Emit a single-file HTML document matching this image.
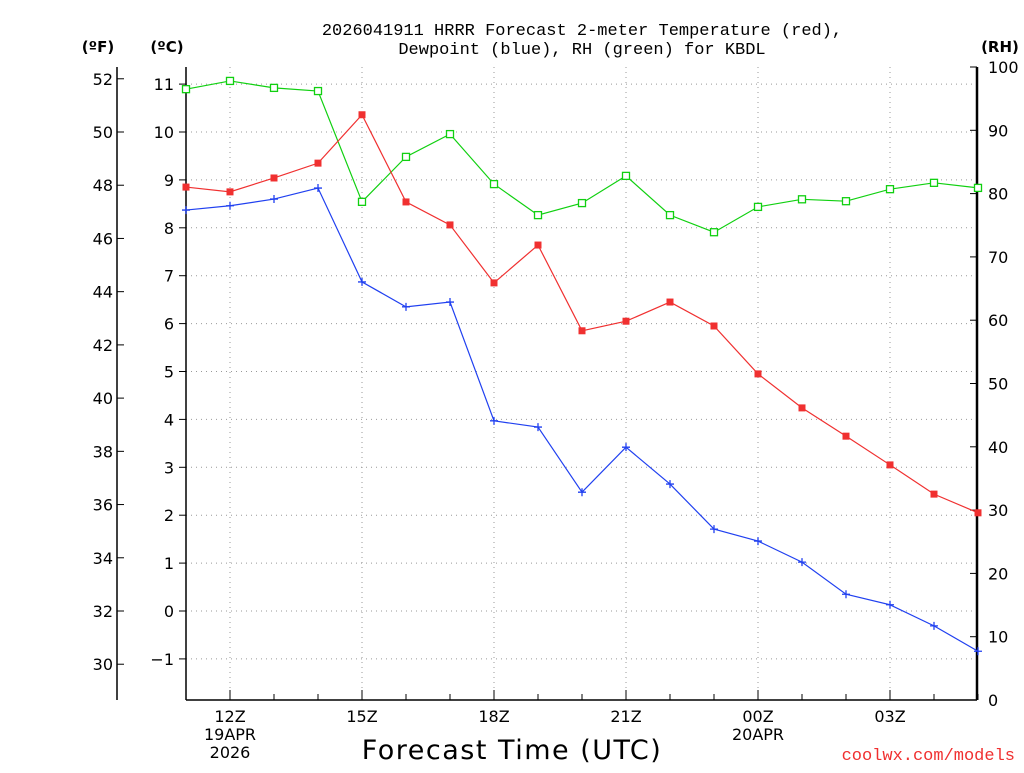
<!DOCTYPE html>
<html><head><meta charset="utf-8"><style>
body{margin:0;background:#fff;font-family:"Liberation Sans",sans-serif}
svg text{font-family:"DejaVu Sans","Liberation Sans",sans-serif}
</style></head><body>
<svg id="c" width="1024" height="768" xmlns="http://www.w3.org/2000/svg">
<text x="582" y="35" font-size="17" text-anchor="middle" style="font-family:'Liberation Mono',monospace">2026041911 HRRR Forecast 2-meter Temperature (red),</text>
<text x="582" y="54" font-size="17" text-anchor="middle" style="font-family:'Liberation Mono',monospace">Dewpoint (blue), RH (green) for KBDL</text>
<text x="98" y="52" font-size="15" font-weight="bold" text-anchor="middle">(ºF)</text>
<text x="167" y="52" font-size="15" font-weight="bold" text-anchor="middle">(ºC)</text>
<text x="1000" y="52" font-size="15" font-weight="bold" text-anchor="middle">(RH)</text>
<text x="512" y="759" font-size="27" text-anchor="middle" letter-spacing="1.5">Forecast Time (UTC)</text>
<text x="1015" y="760" font-size="17" fill="#f03030" text-anchor="end" style="font-family:'Liberation Mono',monospace">coolwx.com/models</text>
<g id="g"></g>
</svg>
<script>
const hours=[11,12,13,14,15,16,17,18,19,20,21,22,23,24,25,26,27,28,29];
const tempC=[8.85,8.75,9.04,9.35,10.36,8.54,8.06,6.85,7.64,5.85,6.05,6.45,5.95,4.95,4.24,3.65,3.05,2.44,2.05];
const dewC=[8.37,8.46,8.60,8.83,6.87,6.35,6.45,3.97,3.84,2.48,3.42,2.65,1.71,1.46,1.02,0.35,0.13,-0.31,-0.84];
const rh=[96.5,97.8,96.7,96.2,78.7,85.8,89.4,81.5,76.6,78.5,82.8,76.6,73.9,77.9,79.1,78.8,80.7,81.7,80.9];
const cTicks=[-1,0,1,2,3,4,5,6,7,8,9,10,11];
const fTicks=[30,32,34,36,38,40,42,44,46,48,50,52];
const rhTicks=[0,10,20,30,40,50,60,70,80,90,100];
const xLabels=[[12,"12Z","19APR","2026"],[15,"15Z"],[18,"18Z"],[21,"21Z"],[24,"00Z","20APR"],[27,"03Z"]];
const L=186,R=977,T=67,B=700;
const X=h=>L+(h-11)*44;
const YC=c=>611-c*47.9;
const YF=f=>YC((f-32)/1.8);
const YR=r=>B-r*6.33;
const g=document.getElementById('g');
const NS='http://www.w3.org/2000/svg';
function mk(t,a,txt){const e=document.createElementNS(NS,t);for(const k in a)e.setAttribute(k,a[k]);if(txt!==undefined)e.textContent=txt;g.appendChild(e);return e;}
cTicks.forEach(c=>{const y=YC(c);
 let e=mk('line',{x1:L,x2:R,y1:y,y2:y,stroke:'#999','stroke-dasharray':'1,4'});
 
 
 mk('line',{x1:L-7,x2:L,y1:y,y2:y,stroke:'#000'});
 e=mk('text',{x:L-12,y:y+6,'font-size':16,'text-anchor':'end'},c<0?'\u2212'+(-c):c);
 
 });
fTicks.forEach(f=>{const y=YF(f);
 mk('line',{x1:117,x2:124,y1:y,y2:y,stroke:'#000'});
 const e=mk('text',{x:113,y:y+6,'font-size':16,'text-anchor':'end'},f);
 
 });
rhTicks.forEach(r=>{const y=YR(r);
 mk('line',{x1:R,x2:R-7,y1:y,y2:y,stroke:'#000'});
 const e=mk('text',{x:988,y:y+6,'font-size':16},r);
 
 });
hours.forEach(h=>{mk('line',{x1:X(h),x2:X(h),y1:B,y2:B-6,stroke:'#000'});});
xLabels.forEach(l=>{const x=X(l[0]);
 let e=mk('line',{x1:x,x2:x,y1:T,y2:B,stroke:'#999','stroke-dasharray':'1,4'});
 
 
 mk('line',{x1:x,x2:x,y1:B,y2:B-10,stroke:'#000'});
 for(let i=1;i<l.length;i++){e=mk('text',{x:x,y:B+22+(i-1)*18,'font-size':16,'text-anchor':'middle'},l[i]);
  
  }});
mk('line',{x1:117,x2:117,y1:T,y2:B,stroke:'#000','stroke-width':1.5});
mk('line',{x1:L,x2:L,y1:T,y2:B,stroke:'#000','stroke-width':1.5});
mk('line',{x1:R,x2:R,y1:T,y2:B,stroke:'#000','stroke-width':2.5});
mk('line',{x1:L,x2:R,y1:B,y2:B,stroke:'#000','stroke-width':1.5});
function series(vals,yf,col,name,mark){
 const pts=vals.map((v,i)=>X(hours[i])+','+yf(v)).join(' ');
 const p=mk('polyline',{points:pts,fill:'none',stroke:col,'stroke-width':1.2});
 
 
 vals.forEach((v,i)=>{const x=X(hours[i]),y=yf(v);let e;
  if(mark==='fill')e=mk('rect',{x:x-3.5,y:y-3.5,width:7,height:7,fill:col});
  else if(mark==='open')e=mk('rect',{x:x-3.5,y:y-3.5,width:7,height:7,fill:'#fff',stroke:col,'stroke-width':1.3});
  else e=mk('path',{d:`M${x-4},${y}H${x+4}M${x},${y-4}V${y+4}`,stroke:col,'stroke-width':1.3});
  
  });
}
series(rh,YR,'#10d010','rh','open');
series(tempC,YC,'#f03030','temperature','fill');
series(dewC,YC,'#2040f0','dewpoint','plus');
</script>
</body></html>
